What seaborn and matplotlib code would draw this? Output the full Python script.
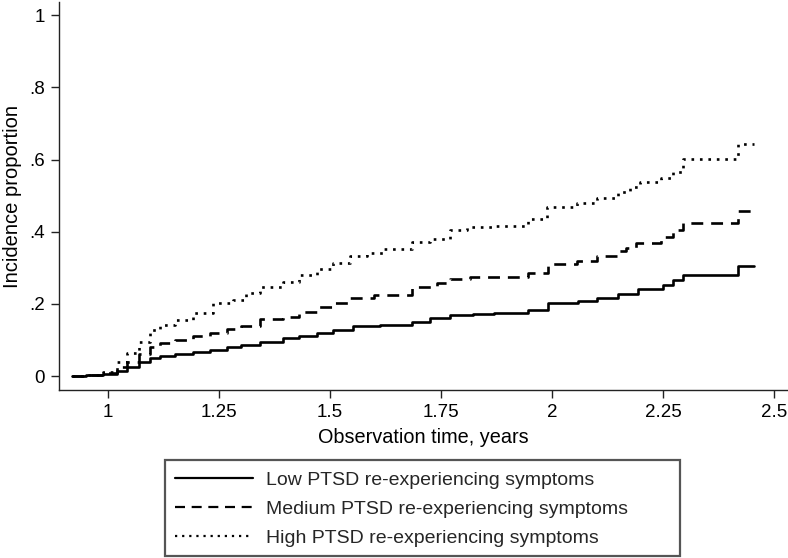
import numpy as np
import pandas as pd
import matplotlib
matplotlib.use("Agg")
import matplotlib.pyplot as plt
from matplotlib.patches import Rectangle
import seaborn as sns

# step points (time in years, cumulative incidence)
low_t = [0.919, 0.95, 0.989, 1.02, 1.042, 1.07, 1.095, 1.117, 1.15, 1.192, 1.23, 1.268,
         1.30, 1.342, 1.394, 1.43, 1.47, 1.507, 1.552, 1.613, 1.685, 1.725, 1.77, 1.822,
         1.87, 1.946, 1.991, 2.059, 2.101, 2.149, 2.194, 2.25, 2.273, 2.295, 2.419, 2.455]
low_p = [0.0, 0.002, 0.006, 0.015, 0.025, 0.038, 0.05, 0.055, 0.06, 0.066, 0.073, 0.08,
         0.086, 0.094, 0.105, 0.112, 0.12, 0.127, 0.139, 0.141, 0.15, 0.16, 0.169, 0.171,
         0.175, 0.183, 0.202, 0.208, 0.216, 0.227, 0.24, 0.252, 0.266, 0.28, 0.305, 0.305]

med_t = [0.919, 0.95, 0.989, 1.02, 1.042, 1.07, 1.095, 1.117, 1.15, 1.192, 1.23, 1.268,
         1.30, 1.342, 1.394, 1.43, 1.47, 1.507, 1.545, 1.60, 1.685, 1.74, 1.77, 1.815,
         1.946, 1.991, 2.056, 2.101, 2.149, 2.167, 2.188, 2.245, 2.273, 2.295, 2.419, 2.455]
med_p = [0.0, 0.003, 0.008, 0.025, 0.039, 0.06, 0.08, 0.091, 0.10, 0.11, 0.12, 0.13,
         0.14, 0.158, 0.164, 0.178, 0.191, 0.202, 0.216, 0.224, 0.247, 0.257, 0.268, 0.274,
         0.286, 0.31, 0.32, 0.333, 0.346, 0.354, 0.368, 0.384, 0.404, 0.424, 0.457, 0.457]

high_t = [0.919, 0.95, 0.989, 1.02, 1.042, 1.07, 1.095, 1.117, 1.15, 1.192, 1.237, 1.282,
          1.31, 1.342, 1.394, 1.43, 1.47, 1.507, 1.545, 1.583, 1.62, 1.685, 1.725, 1.77,
          1.809, 1.87, 1.946, 1.988, 2.056, 2.101, 2.149, 2.175, 2.197, 2.245, 2.273, 2.295,
          2.419, 2.455]
high_p = [0.0, 0.004, 0.011, 0.04, 0.063, 0.095, 0.127, 0.141, 0.155, 0.174, 0.202, 0.21,
          0.23, 0.247, 0.26, 0.28, 0.298, 0.312, 0.332, 0.341, 0.351, 0.371, 0.381, 0.404,
          0.412, 0.415, 0.435, 0.468, 0.479, 0.493, 0.51, 0.523, 0.537, 0.548, 0.565, 0.601,
          0.643, 0.643]

groups = ["Low PTSD re-experiencing symptoms",
          "Medium PTSD re-experiencing symptoms",
          "High PTSD re-experiencing symptoms"]

x_ticks = [1, 1.25, 1.5, 1.75, 2, 2.25, 2.5]
x_ticklabels = ["1", "1.25", "1.5", "1.75", "2", "2.25", "2.5"]
y_ticks = [0, 0.2, 0.4, 0.6, 0.8, 1]
y_ticklabels = ["0", ".2", ".4", ".6", ".8", "1"]

df = pd.concat([
    pd.DataFrame({"time": low_t, "prop": low_p, "group": groups[0]}),
    pd.DataFrame({"time": med_t, "prop": med_p, "group": groups[1]}),
    pd.DataFrame({"time": high_t, "prop": high_p, "group": groups[2]}),
])

sns.set_theme(style="ticks")
plt.rcParams["font.family"] = ["Liberation Sans", "DejaVu Sans"]

fig = plt.figure(figsize=(7.88, 5.58), dpi=100)
ax = fig.add_axes([0.0749, 0.301, 0.924, 0.695])

sns.lineplot(data=df, x="time", y="prop", style="group", style_order=groups,
             dashes={groups[0]: "", groups[1]: (4.5, 3), groups[2]: (1, 2.2)},
             color="black", linewidth=1.9, drawstyle="steps-post",
             estimator=None, ax=ax)

ax.set_xlim(0.89, 2.529)
ax.set_ylim(-0.0388, 1.036)
ax.set_xticks(x_ticks)
ax.set_xticklabels(x_ticklabels)
ax.set_yticks(y_ticks)
ax.set_yticklabels(y_ticklabels)
ax.tick_params(axis="both", labelsize=13.5, length=6, width=1, color="#222222",
               labelcolor="black", direction="out", pad=4)
ax.set_xlabel("Observation time, years", fontsize=14.3, color="black", labelpad=5)
ax.set_ylabel("Incidence proportion", fontsize=14.5, color="black", labelpad=5)
for s in ["top", "right"]:
    ax.spines[s].set_visible(False)
for s in ["left", "bottom"]:
    ax.spines[s].set_color("#222222")
    ax.spines[s].set_linewidth(1)

sns.move_legend(ax, "upper left", bbox_to_anchor=(175 / 788, 1 - 471 / 558),
                bbox_transform=fig.transFigure, title=None, frameon=False,
                fontsize=14, handlelength=4.0, handletextpad=0.67,
                labelspacing=0.6, borderpad=0, borderaxespad=0)
for h in ax.get_legend().legend_handles:
    h.set_linewidth(1.6)

fig.patches.append(Rectangle((165 / 788, 2 / 558), 515 / 788, 96 / 558,
                             transform=fig.transFigure, fill=False,
                             edgecolor="#555555", linewidth=1.6))

fig.savefig("out.png", dpi=100)
